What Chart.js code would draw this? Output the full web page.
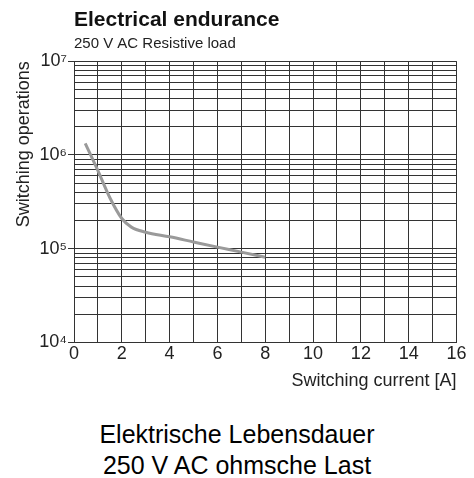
<!DOCTYPE html>
<html>
<head>
<meta charset="utf-8">
<script src="https://cdn.jsdelivr.net/npm/chart.js@4/dist/chart.umd.min.js"></script>
<style>
  body { margin: 0; background: #fff; }
  #wrap { position: relative; width: 474px; height: 478px; }
  canvas { display: block; }
  #caption {
    position: absolute; left: 0; top: 419px; width: 474px;
    text-align: center; color: #000;
    font: 25px/31px 'Liberation Sans', Arial, sans-serif;
  }
</style>
</head>
<body>
<div id="wrap">
  <canvas id="myChart" width="474" height="400"></canvas>
  <div id="caption">Elektrische Lebensdauer<br>250 V AC ohmsche Last</div>
</div>
<script>
// switching current [A] vs switching operations
const current = [0.47, 1.0, 1.5, 2.0, 2.4, 3.0, 4.0, 5.0, 6.0, 7.0, 8.0];
const operations = [1330000, 680000, 350000, 210000, 170000, 150000, 134000, 118000, 104000, 92000, 81000];

const xGrid = [0, 1, 2, 3, 4, 5, 6, 7, 8, 9, 10, 11, 12, 13, 14, 15, 16];
const yDecades = [4, 5, 6, 7];
const yMantissas = [1, 2, 3, 4, 5, 6, 7, 8, 9];

const sup = { "0": "⁰", "1": "¹", "2": "²", "3": "³", "4": "⁴", "5": "⁵", "6": "⁶", "7": "⁷", "8": "⁸", "9": "⁹" };
const sans = "'Liberation Sans', Arial, sans-serif";
const gridColor = "#333";

const yTickValues = [];
yDecades.forEach(d => {
  if (d === yDecades[yDecades.length - 1]) { yTickValues.push(Math.pow(10, d)); return; }
  yMantissas.forEach(m => yTickValues.push(m * Math.pow(10, d)));
});

function isDecade(v) {
  const l = Math.log10(v);
  return Math.abs(l - Math.round(l)) < 1e-9;
}

const chart1 = document.getElementById("myChart");

var myChart = new Chart(chart1, {
  type: "line",
  data: {
    datasets: [
      {
        data: current.map((x, i) => ({ x: x, y: operations[i] })),
        borderColor: "#9a9a9a",
        borderWidth: 3,
        pointRadius: 0,
        fill: false,
        cubicInterpolationMode: "monotone",
      },
    ],
  },
  options: {
    responsive: false,
    animation: false,
    layout: { padding: { left: 0, right: 17.5, top: 0, bottom: 0 } },
    plugins: {
      legend: { display: false },
      tooltip: { enabled: false },
      title: {
        display: true,
        text: "Electrical endurance",
        align: "start",
        fullSize: false,
        color: "#111",
        font: { family: sans, size: 21, weight: "bold" },
        padding: { top: 8, bottom: 2 },
      },
      subtitle: {
        display: true,
        text: "250 V AC Resistive load",
        align: "start",
        fullSize: false,
        color: "#222",
        font: { family: sans, size: 15 },
        padding: { top: 0, bottom: 8 },
      },
    },
    scales: {
      x: {
        type: "linear",
        min: 0,
        max: 16,
        afterBuildTicks: (s) => { s.ticks = xGrid.map(v => ({ value: v })); },
        afterFit: (s) => { s.height = 400 - 342.5; },
        ticks: {
          autoSkip: false,
          maxRotation: 0,
          padding: 1,
          color: "#222",
          font: { family: sans, size: 18 },
          callback: (v) => (v % 2 === 0 ? String(v) : ""),
        },
        grid: { color: gridColor, lineWidth: 1, drawTicks: false },
        border: { color: gridColor },
        title: {
          display: true,
          text: "Switching current [A]",
          align: "end",
          color: "#222",
          font: { family: sans, size: 18 },
          padding: { top: 0, bottom: 8 },
        },
      },
      y: {
        type: "logarithmic",
        min: 10000,
        max: 10000000,
        afterBuildTicks: (s) => { s.ticks = yTickValues.map(v => ({ value: v, major: isDecade(v) })); },
        afterFit: (s) => { s.width = 74; },
        ticks: {
          autoSkip: false,
          padding: 1,
          color: "#222",
          font: { family: sans, size: 18 },
          callback: (v) => {
            if (!isDecade(v)) return "";
            const e = String(Math.round(Math.log10(v)));
            return "10" + e.split("").map(c => sup[c]).join("");
          },
        },
        grid: {
          color: gridColor,
          lineWidth: 1,
          tickLength: 6,
          tickColor: (ctx) => (ctx.tick && isDecade(ctx.tick.value) ? gridColor : "rgba(0,0,0,0)"),
        },
        border: { color: gridColor },
        title: {
          display: true,
          text: "Switching operations",
          align: "end",
          color: "#222",
          font: { family: sans, size: 18 },
          padding: { top: 13, bottom: 0 },
        },
      },
    },
  },
});
</script>
</body>
</html>
